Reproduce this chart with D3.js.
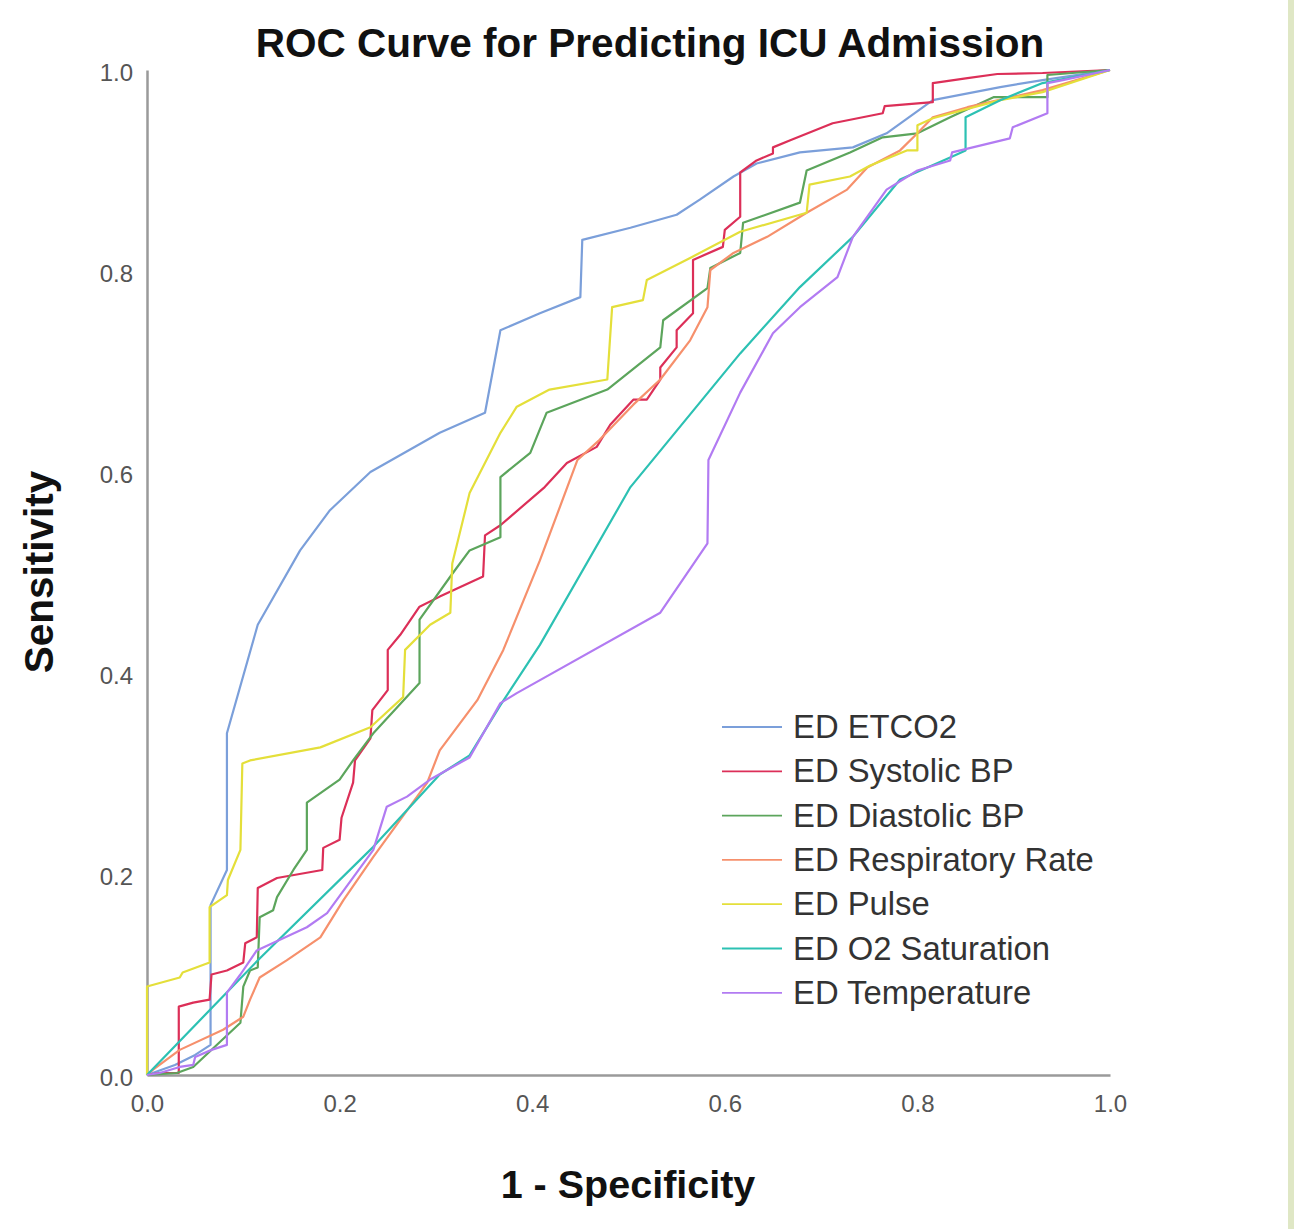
<!DOCTYPE html>
<html>
<head>
<meta charset="utf-8">
<script src="https://cdn.jsdelivr.net/npm/d3@7"></script>
<style>
  html, body { margin: 0; padding: 0; background: #ffffff; }
  svg { display: block; }
</style>
</head>
<body>
<div id="chart"></div>
<script>
// ---- Data (1 - specificity, sensitivity) ----
const seriesNames = ["ED ETCO2", "ED Systolic BP", "ED Diastolic BP", "ED Respiratory Rate", "ED Pulse", "ED O2 Saturation", "ED Temperature"];
const seriesColors = ["#7b9fda", "#dc2f58", "#5ca55c", "#f6906c", "#e4df3a", "#2cc1b3", "#b27bf2"];

const etco2 = [[0,0],[0.029,0.010],[0.050,0.020],[0.066,0.030],[0.066,0.169],[0.083,0.204],[0.083,0.340],[0.115,0.448],[0.159,0.522],[0.190,0.562],[0.232,0.600],[0.304,0.639],[0.351,0.659],[0.367,0.741],[0.408,0.758],[0.450,0.774],[0.452,0.831],[0.502,0.843],[0.550,0.856],[0.574,0.871],[0.609,0.894],[0.633,0.907],[0.678,0.918],[0.733,0.923],[0.768,0.937],[0.816,0.970],[0.886,0.983],[0.930,0.990],[1,1]];
const systolic = [[0,0],[0.013,0.002],[0.033,0.002],[0.033,0.068],[0.048,0.072],[0.065,0.075],[0.067,0.100],[0.083,0.104],[0.100,0.112],[0.102,0.131],[0.114,0.137],[0.115,0.186],[0.135,0.196],[0.182,0.204],[0.183,0.226],[0.200,0.234],[0.202,0.256],[0.214,0.291],[0.216,0.313],[0.232,0.335],[0.234,0.363],[0.250,0.383],[0.250,0.423],[0.263,0.438],[0.283,0.466],[0.304,0.476],[0.349,0.496],[0.351,0.537],[0.367,0.547],[0.413,0.585],[0.436,0.609],[0.467,0.625],[0.481,0.647],[0.505,0.672],[0.519,0.672],[0.533,0.692],[0.533,0.704],[0.550,0.724],[0.550,0.741],[0.567,0.758],[0.567,0.811],[0.598,0.824],[0.600,0.841],[0.616,0.854],[0.616,0.898],[0.633,0.910],[0.650,0.917],[0.650,0.923],[0.668,0.930],[0.712,0.947],[0.764,0.957],[0.766,0.964],[0.816,0.968],[0.816,0.987],[0.852,0.992],[0.883,0.996],[0.930,0.997],[1,1]];
const diastolic = [[0,0],[0.031,0.002],[0.048,0.008],[0.097,0.052],[0.100,0.088],[0.107,0.104],[0.115,0.107],[0.117,0.157],[0.131,0.164],[0.135,0.177],[0.152,0.204],[0.166,0.224],[0.166,0.271],[0.200,0.294],[0.214,0.313],[0.235,0.340],[0.283,0.390],[0.283,0.453],[0.318,0.500],[0.335,0.522],[0.367,0.535],[0.367,0.595],[0.398,0.619],[0.415,0.659],[0.478,0.682],[0.533,0.724],[0.536,0.751],[0.582,0.783],[0.585,0.803],[0.616,0.818],[0.619,0.848],[0.678,0.868],[0.685,0.900],[0.730,0.918],[0.764,0.933],[0.800,0.937],[0.834,0.953],[0.879,0.973],[0.935,0.973],[0.935,0.995],[1,1]];
const respiratory = [[0,0],[0.006,0.005],[0.034,0.025],[0.079,0.045],[0.100,0.058],[0.107,0.075],[0.117,0.097],[0.145,0.114],[0.180,0.137],[0.204,0.174],[0.235,0.217],[0.291,0.291],[0.304,0.323],[0.343,0.373],[0.370,0.423],[0.408,0.512],[0.447,0.612],[0.470,0.632],[0.505,0.667],[0.533,0.692],[0.564,0.731],[0.582,0.764],[0.585,0.801],[0.609,0.818],[0.644,0.834],[0.685,0.858],[0.727,0.881],[0.748,0.903],[0.782,0.920],[0.800,0.937],[0.816,0.953],[0.852,0.963],[0.930,0.980],[1,1]];
const pulse = [[0,0],[0,0.088],[0.034,0.097],[0.037,0.102],[0.065,0.112],[0.065,0.167],[0.083,0.179],[0.084,0.194],[0.097,0.224],[0.099,0.310],[0.107,0.313],[0.180,0.326],[0.232,0.346],[0.266,0.376],[0.268,0.423],[0.294,0.448],[0.315,0.460],[0.317,0.509],[0.335,0.579],[0.367,0.639],[0.384,0.665],[0.418,0.682],[0.478,0.692],[0.483,0.764],[0.515,0.771],[0.519,0.791],[0.564,0.813],[0.616,0.839],[0.685,0.858],[0.688,0.886],[0.730,0.894],[0.751,0.905],[0.789,0.920],[0.800,0.920],[0.800,0.945],[0.816,0.952],[0.886,0.970],[0.930,0.978],[1,1]];
const o2sat = [[0,0],[0.117,0.116],[0.235,0.227],[0.304,0.299],[0.335,0.318],[0.367,0.368],[0.408,0.428],[0.502,0.585],[0.616,0.718],[0.678,0.784],[0.733,0.834],[0.782,0.891],[0.834,0.913],[0.850,0.920],[0.850,0.953],[0.886,0.970],[0.930,0.987],[1,1]];
const temperature = [[0,0],[0.013,0.002],[0.034,0.008],[0.048,0.010],[0.050,0.018],[0.067,0.025],[0.083,0.030],[0.083,0.082],[0.097,0.100],[0.114,0.124],[0.166,0.147],[0.187,0.161],[0.235,0.224],[0.249,0.267],[0.270,0.277],[0.294,0.294],[0.335,0.316],[0.367,0.370],[0.384,0.380],[0.533,0.460],[0.582,0.529],[0.583,0.612],[0.616,0.679],[0.650,0.738],[0.678,0.764],[0.717,0.794],[0.733,0.834],[0.768,0.881],[0.800,0.900],[0.834,0.910],[0.836,0.918],[0.896,0.932],[0.899,0.943],[0.935,0.957],[0.935,0.987],[0.951,0.990],[1,1]];

const seriesData = [etco2, systolic, diastolic, respiratory, pulse, o2sat, temperature];
const tickValues = [0, 0.2, 0.4, 0.6, 0.8, 1.0];
const titleText = "ROC Curve for Predicting ICU Admission";
const xLabel = "1 - Specificity";
const yLabel = "Sensitivity";

// ---- Layout ----
const W = 1294, H = 1229;
const plot = { left: 147, right: 1110, top: 70, bottom: 1075 };

const svg = d3.select("#chart").append("svg")
  .attr("width", W).attr("height", H);

svg.append("rect").attr("width", W).attr("height", H).attr("fill", "#ffffff");
svg.append("rect").attr("x", 1288).attr("y", 0).attr("width", 6).attr("height", H).attr("fill", "#dfe7c5");

const x = d3.scaleLinear().domain([0, 1]).range([plot.left, plot.right]);
const y = d3.scaleLinear().domain([0, 1]).range([plot.bottom, plot.top]);

const font = "'Liberation Sans', Arial, Helvetica, sans-serif";

// Axes
const xAxis = d3.axisBottom(x).tickValues(tickValues).tickFormat(d3.format(".1f")).tickSize(0).tickPadding(20);
const yAxis = d3.axisLeft(y).tickValues(tickValues).tickFormat(d3.format(".1f")).tickSize(0).tickPadding(14);

const gx = svg.append("g").attr("transform", `translate(0,${plot.bottom})`).call(xAxis);
const gy = svg.append("g").attr("transform", `translate(${plot.left},0)`).call(yAxis);

[gx, gy].forEach(g => {
  g.select(".domain").attr("stroke", "#9a9a9a").attr("stroke-width", 2.5);
  g.selectAll("text").attr("font-family", font).attr("font-size", 24).attr("fill", "#555");
});
gy.selectAll("text").attr("dy", "0.45em");

// Curves
const line = d3.line().x(d => x(d[0])).y(d => y(d[1]));
const gLines = svg.append("g").attr("fill", "none").attr("stroke-linejoin", "round");
seriesData.forEach((s, i) => {
  gLines.append("path")
    .attr("d", line(s))
    .attr("stroke", seriesColors[i])
    .attr("stroke-width", 2.2);
});

// Title
svg.append("text")
  .attr("x", 650).attr("y", 57)
  .attr("text-anchor", "middle")
  .attr("font-family", font).attr("font-weight", "bold").attr("font-size", 40.5)
  .attr("fill", "#111")
  .text(titleText);

// Axis titles
svg.append("text")
  .attr("x", 628).attr("y", 1198)
  .attr("text-anchor", "middle")
  .attr("font-family", font).attr("font-weight", "bold").attr("font-size", 39.5)
  .attr("fill", "#111")
  .text(xLabel);

svg.append("text")
  .attr("transform", `translate(53,572) rotate(-90)`)
  .attr("text-anchor", "middle")
  .attr("font-family", font).attr("font-weight", "bold").attr("font-size", 40.5)
  .attr("fill", "#111")
  .text(yLabel);

// Legend
const legend = svg.append("g").attr("transform", "translate(722,727)");
const rowH = 44.3;
seriesNames.forEach((name, i) => {
  const g = legend.append("g").attr("transform", `translate(0,${i * rowH})`);
  g.append("line").attr("x1", 0).attr("x2", 60).attr("y1", 0).attr("y2", 0)
    .attr("stroke", seriesColors[i]).attr("stroke-width", 1.8);
  g.append("text").attr("x", 71).attr("y", 11)
    .attr("font-family", font).attr("font-size", 32.8).attr("fill", "#333")
    .text(name);
});
</script>
</body>
</html>
